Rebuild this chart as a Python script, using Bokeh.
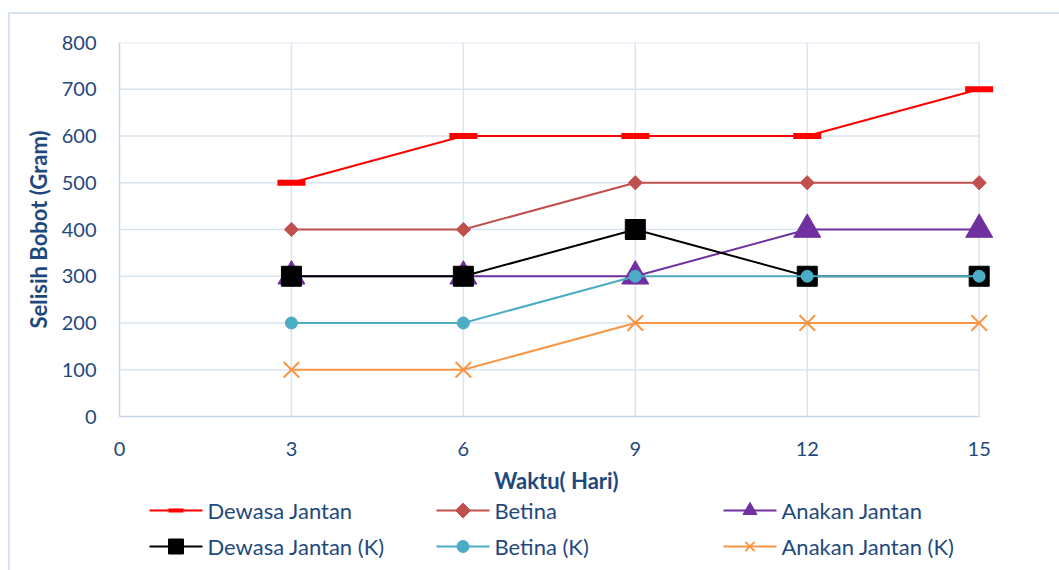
from bokeh.plotting import figure
from bokeh.models import Range1d
from bokeh.layouts import column
from bokeh.core.properties import value
from bokeh.embed import file_html
from bokeh.resources import INLINE
import numpy as np

days = [3, 6, 9, 12, 15]
dewasa_jantan = [500, 600, 600, 600, 700]
betina = [400, 400, 500, 500, 500]
anakan_jantan = [300, 300, 300, 400, 400]
dewasa_jantan_k = [300, 300, 400, 300, 300]
betina_k = [200, 200, 300, 300, 300]
anakan_jantan_k = [100, 100, 200, 200, 200]
series_names = ["Dewasa Jantan", "Betina", "Anakan Jantan",
                "Dewasa Jantan (K)", "Betina (K)", "Anakan Jantan (K)"]
x_ticks = [0, 3, 6, 9, 12, 15]
y_ticks = [0, 100, 200, 300, 400, 500, 600, 700, 800]

FONT = "Lato"
TXT = "#1F497D"
GRID = "#DAE4F2"
BORDER = "#D6E2F0"

# style per series: colour, marker, plot size, legend size, extra kwargs
styles = [
    ("#FF0000", "dash", 28, 15, dict(line_width=6)),
    ("#C0504D", "square", 10, 10.5, dict(angle=np.pi / 4)),
    ("#7030A0", "triangle", 27, 14, {}),
    ("#000000", "square", 20, 15, {}),
    ("#4BACC6", "circle", 12, 12, {}),
    ("#F79646", "x", 22, 13, dict(line_width=2)),
]
values = [dewasa_jantan, betina, anakan_jantan, dewasa_jantan_k, betina_k, anakan_jantan_k]

x_max = x_ticks[-1]
y_max = y_ticks[-1]

W = 1059
H_MAIN = 496
H_LEG = 570 - H_MAIN
BL, BR = 119, 66

p = figure(width=W, height=H_MAIN, output_backend="svg", toolbar_location=None,
           x_range=Range1d(0, x_max + 0.25), y_range=Range1d(0, y_max),
           min_border_left=BL, min_border_right=BR, min_border_top=42, min_border_bottom=H_MAIN - 416)
p.outline_line_color = None
p.background_fill_color = "white"
p.border_fill_color = None
p.styles = {
    "background": (f"linear-gradient({BORDER},{BORDER}) 8px 12px / 2px 100% no-repeat, "
                   f"linear-gradient({BORDER},{BORDER}) 8px 12px / 100% 2px no-repeat, white")
}

p.xgrid.visible = False
p.ygrid.visible = False
# gridlines drawn from the tick values, stopping at the last x tick
p.segment(x0=x_ticks[1:], y0=[0] * (len(x_ticks) - 1), x1=x_ticks[1:], y1=[y_max] * (len(x_ticks) - 1),
          line_color=GRID, line_width=1.5)
p.segment(x0=[0] * (len(y_ticks) - 1), y0=y_ticks[1:], x1=[x_max] * (len(y_ticks) - 1), y1=y_ticks[1:],
          line_color=GRID, line_width=1.5)

p.xaxis.ticker = x_ticks
p.yaxis.ticker = y_ticks
p.xaxis.bounds = (0, x_max)
for ax in (p.xaxis, p.yaxis):
    ax.axis_line_color = "#C5D5EC"
    ax.axis_line_width = 1.5
    ax.major_tick_line_color = None
    ax.minor_tick_line_color = None
    ax.major_label_text_font = FONT
    ax.major_label_text_font_size = "20px"
    ax.major_label_text_color = TXT
    ax.axis_label_text_font = FONT
    ax.axis_label_text_font_style = "bold"
    ax.axis_label_text_color = TXT
    ax.axis_label_text_font_size = "22px"
p.xaxis.major_label_standoff = 19
p.yaxis.major_label_standoff = 17
p.xaxis.axis_label = "Waktu( Hari)"
p.yaxis.axis_label = "Selisih Bobot (Gram)"
p.xaxis.axis_label_standoff = 8
p.yaxis.axis_label_standoff = 7

for vals, (col, mk, sz, _, kw) in zip(values, styles):
    p.line(days, vals, line_color=col, line_width=2)
    p.scatter(days, vals, marker=mk, size=sz, fill_color=col, line_color=col, **kw)

# legend panel below the chart (pixel coordinates, frame aligned with the chart frame)
leg = figure(width=W, height=H_LEG, output_backend="svg", toolbar_location=None,
             x_range=Range1d(BL, W - BR), y_range=Range1d(0, H_LEG),
             x_axis_type=None, y_axis_type=None,
             min_border_left=BL, min_border_right=BR, min_border_top=0, min_border_bottom=0)
leg.grid.visible = False
leg.outline_line_color = None
leg.background_fill_color = None
leg.border_fill_color = None
leg.styles = {
    "background": f"linear-gradient({BORDER},{BORDER}) 8px 0px / 2px 100% no-repeat, white"
}
col_x = [149, 436, 723]
row_y = [570 - 510, 570 - 546]
line_len = 53
for i, (name, (col, mk, _, lsz, kw)) in enumerate(zip(series_names, styles)):
    x0 = col_x[i % 3]
    y0 = row_y[i // 3]
    leg.segment(x0=[x0], y0=[y0], x1=[x0 + line_len], y1=[y0], line_color=col, line_width=2)
    lkw = dict(kw)
    if mk == "dash":
        lkw["line_width"] = 4
    leg.scatter([x0 + line_len / 2], [y0], marker=mk, size=lsz, fill_color=col, line_color=col, **lkw)
    leg.text([x0 + line_len + 5], [y0], text=[name], text_font=value(FONT), text_font_size="22px",
             text_color=TXT, text_baseline="middle", text_align="left")

open("out.html", "w").write(file_html(column(p, leg, spacing=0), INLINE))
